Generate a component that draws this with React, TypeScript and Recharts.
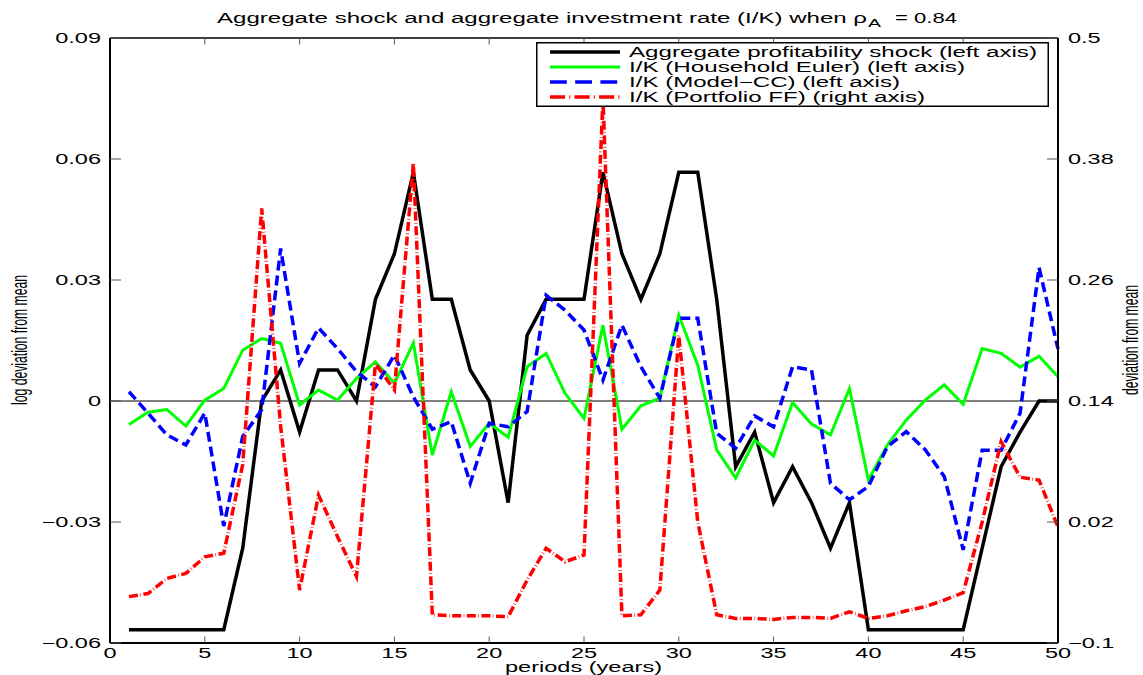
import { ComposedChart, Line, XAxis, YAxis, ReferenceLine, Legend } from "recharts";

const FONT = '"Liberation Sans", Arial, Helvetica, sans-serif';
// the original figure was stretched sideways, so all text is widened
const SX = 1.68;

const periods = [
  1, 2, 3, 4, 5, 6, 7, 8, 9, 10, 11, 12, 13, 14, 15, 16, 17, 18, 19, 20, 21, 22, 23, 24, 25,
  26, 27, 28, 29, 30, 31, 32, 33, 34, 35, 36, 37, 38, 39, 40, 41, 42, 43, 44, 45, 46, 47, 48, 49, 50,
];

const aggregateShock = [
  -0.0567, -0.0567, -0.0567, -0.0567, -0.0567, -0.0567, -0.0365, 0, 0.0077, -0.0077,
  0.0077, 0.0077, 0, 0.0252, 0.0365, 0.0567, 0.0252, 0.0252, 0.0077, 0,
  -0.0252, 0.0163, 0.0252, 0.0252, 0.0252, 0.0567, 0.0365, 0.0252, 0.0365, 0.0567,
  0.0567, 0.0252, -0.0163, -0.0077, -0.0252, -0.0163, -0.0252, -0.0365, -0.0252, -0.0567,
  -0.0567, -0.0567, -0.0567, -0.0567, -0.0567, -0.0365, -0.0163, -0.0077, 0, 0,
];

const householdEuler = [
  -0.0058, -0.0028, -0.0021, -0.0062, 0.0002, 0.0031, 0.0126, 0.0155, 0.0143, -0.001,
  0.0027, 0.0002, 0.0056, 0.0097, 0.0044, 0.0144, -0.0134, 0.0023, -0.0113, -0.0055,
  -0.009, 0.0085, 0.0118, 0.0019, -0.0043, 0.0188, -0.007, -0.0012, 0.0007, 0.0213,
  0.0089, -0.0121, -0.0191, -0.0097, -0.0136, -0.0004, -0.0057, -0.0084, 0.0031, -0.0196,
  -0.0109, -0.0047, 0.0002, 0.004, -0.0008, 0.013, 0.0118, 0.0084, 0.0111, 0.006,
];

const modelCC = [
  0.0023, -0.003, -0.0084, -0.0109, -0.003, -0.031, -0.0088, -0.0022, 0.0378, 0.0093,
  0.0181, 0.013, 0.0073, 0.0035, 0.0114, 0.001, -0.007, -0.0051, -0.0204, -0.0055,
  -0.0064, -0.0026, 0.0262, 0.0225, 0.0176, 0.0052, 0.0188, 0.0085, 0.0007, 0.0205,
  0.0205, -0.008, -0.0117, -0.0037, -0.0064, 0.0085, 0.0077, -0.0204, -0.0245, -0.0212,
  -0.0113, -0.0076, -0.0121, -0.0187, -0.0369, -0.0122, -0.0122, -0.003, 0.0331, 0.0129,
];

// right axis
const portfolioFF = [
  -0.054, -0.051, -0.036, -0.031, -0.0145, -0.011, 0.077, 0.331, 0.115, -0.0475,
  0.0467, 0.0054, -0.034, 0.177, 0.151, 0.376, -0.072, -0.073, -0.073, -0.073,
  -0.074, -0.0376, -0.006, -0.0194, -0.0128, 0.44, -0.073, -0.072, -0.0475, 0.205,
  0.02, -0.072, -0.0756, -0.0756, -0.0766, -0.0746, -0.0746, -0.0756, -0.069, -0.0756,
  -0.073, -0.068, -0.064, -0.0575, -0.05, 0.02, 0.0997, 0.0644, 0.0616, 0.015,
];

const xTicks = [0, 5, 10, 15, 20, 25, 30, 35, 40, 45, 50];
const leftTicks = [-0.06, -0.03, 0, 0.03, 0.06, 0.09];
const leftTickLabels = ["\u22120.06", "\u22120.03", "0", "0.03", "0.06", "0.09"];
const rightTicks = [-0.1, 0.02, 0.14, 0.26, 0.38, 0.5];
const rightTickLabels = ["\u22120.1", "0.02", "0.14", "0.26", "0.38", "0.5"];

const series = [
  { key: "shock", name: "Aggregate profitability shock (left axis)", color: "#000000", width: 3.5, dash: undefined, axis: "l", textW: 408 },
  { key: "euler", name: "I/K (Household Euler) (left axis)", color: "#00ff00", width: 3, dash: undefined, axis: "l", textW: 336 },
  { key: "cc", name: "I/K (Model\u2212CC) (left axis)", color: "#0000ff", width: 3.5, dash: "10 5", axis: "l", textW: 271 },
  { key: "ff", name: "I/K (Portfolio FF) (right axis)", color: "#ff0000", width: 3.5, dash: "9 2.5 0.6 2.5", axis: "r", textW: 296 },
];

const data = periods.map((p, i) => ({
  period: p,
  shock: aggregateShock[i],
  euler: householdEuler[i],
  cc: modelCC[i],
  ff: portfolioFF[i],
}));

const XTick = ({ x, y, payload }: any) => (
  <text transform={`translate(${x},${y + 15}) scale(${SX},1)`} textAnchor="middle" fontFamily={FONT} fontSize={14} fill="#000">
    {payload.value}
  </text>
);

const LeftTick = ({ x, y, payload, index }: any) => (
  <text transform={`translate(${x},${y + 5}) scale(${SX},1)`} textAnchor="end" fontFamily={FONT} fontSize={14} fill="#000">
    {leftTickLabels[index] ?? payload.value}
  </text>
);

const RightTick = ({ x, y, payload, index }: any) => (
  <text transform={`translate(${x},${y + 5}) scale(${SX},1)`} textAnchor="start" fontFamily={FONT} fontSize={14} fill="#000">
    {rightTickLabels[index] ?? payload.value}
  </text>
);

const NoTick = () => <g />;

const TitleLabel = () => (
  <g fontFamily={FONT} fill="#000">
    <text x={217} y={23} fontSize={14} textLength={650} lengthAdjust="spacingAndGlyphs">
      Aggregate shock and aggregate investment rate (I/K) when ρ
    </text>
    <text x={868} y={27} fontSize={11} textLength={13} lengthAdjust="spacingAndGlyphs">
      A
    </text>
    <text x={895} y={23} fontSize={14} textLength={62} lengthAdjust="spacingAndGlyphs">
      = 0.84
    </text>
  </g>
);

const XTitle = () => (
  <text x={505} y={672} fontFamily={FONT} fontSize={14} fill="#000" textLength={157} lengthAdjust="spacingAndGlyphs">
    periods (years)
  </text>
);

const LeftTitle = () => (
  <text
    transform={`translate(27,340) scale(${SX},1) rotate(-90)`}
    textAnchor="middle"
    fontFamily={FONT}
    fontSize={13}
    fill="#000"
    textLength={130}
    lengthAdjust="spacingAndGlyphs"
  >
    log deviation from mean
  </text>
);

const RightTitle = () => (
  <text
    transform={`translate(1138,340) scale(${SX},1) rotate(-90)`}
    textAnchor="middle"
    fontFamily={FONT}
    fontSize={13}
    fill="#000"
    textLength={110}
    lengthAdjust="spacingAndGlyphs"
  >
    deviation from mean
  </text>
);

const LegendBox = () => (
  <svg width={513} height={65} style={{ display: "block" }}>
    <rect x={0.75} y={0.75} width={511.5} height={63.5} fill="#fff" stroke="#000" strokeWidth={1.5} />
    {series.map((s, i) => {
      const cy = 10 + 15 * i;
      return (
        <g key={s.key}>
          <line x1={14} x2={84} y1={cy} y2={cy} stroke={s.color} strokeWidth={s.width} strokeDasharray={s.dash ? s.dash.split(" ").map((v) => Number(v) * SX).join(" ") : undefined} />
          <text x={93} y={cy + 5} fontFamily={FONT} fontSize={14} fill="#000" textLength={s.textW} lengthAdjust="spacingAndGlyphs">
            {s.name}
          </text>
        </g>
      );
    })}
  </svg>
);

export default function App() {
  return (
    <div style={{ width: 1143, height: 675, background: "#fff" }}>
      <style>{"body{margin:0;background:#fff}"}</style>
      <ComposedChart width={1143} height={675} data={data} margin={{ top: 0, right: 0, bottom: 0, left: 0 }}>
        <XAxis
          xAxisId="t"
          orientation="top"
          dataKey="period"
          type="number"
          domain={[0, 50]}
          ticks={xTicks}
          interval={0}
          height={38}
          tickSize={-6.5}
          tick={<NoTick />}
          axisLine={{ stroke: "#000", strokeWidth: 1.5 }}
          tickLine={{ stroke: "#555", strokeWidth: 1 }}
          label={<TitleLabel />}
        />
        <XAxis
          xAxisId="b"
          dataKey="period"
          type="number"
          domain={[0, 50]}
          ticks={xTicks}
          interval={0}
          height={32}
          tickSize={-6.5}
          tickMargin={6.5}
          tick={<XTick />}
          axisLine={{ stroke: "#000", strokeWidth: 2 }}
          tickLine={{ stroke: "#555", strokeWidth: 1 }}
          label={<XTitle />}
        />
        <YAxis
          yAxisId="l"
          domain={[-0.06, 0.09]}
          ticks={leftTicks}
          interval={0}
          width={110}
          tickSize={-11}
          tickMargin={20}
          tick={<LeftTick />}
          axisLine={{ stroke: "#000", strokeWidth: 2 }}
          tickLine={{ stroke: "#555", strokeWidth: 1 }}
          label={<LeftTitle />}
        />
        <YAxis
          yAxisId="r"
          orientation="right"
          domain={[-0.1, 0.5]}
          ticks={rightTicks}
          interval={0}
          width={85}
          tickSize={-11}
          tickMargin={21}
          tick={<RightTick />}
          axisLine={{ stroke: "#000", strokeWidth: 2 }}
          tickLine={{ stroke: "#555", strokeWidth: 1 }}
          label={<RightTitle />}
        />
        <ReferenceLine xAxisId="b" yAxisId="l" y={0} stroke="#000" strokeWidth={1} />
        {series.map((s) => (
          <Line
            key={s.key}
            xAxisId="b"
            yAxisId={s.axis}
            type="linear"
            dataKey={s.key}
            name={s.name}
            stroke={s.color}
            strokeWidth={s.width}
            strokeDasharray={s.dash}
            dot={false}
            activeDot={false}
            isAnimationActive={false}
          />
        ))}
        <Legend
          layout="vertical"
          align="center"
          verticalAlign="middle"
          wrapperStyle={{ left: 536, top: 42, width: 513, height: 65 }}
          content={<LegendBox />}
        />
      </ComposedChart>
    </div>
  );
}
